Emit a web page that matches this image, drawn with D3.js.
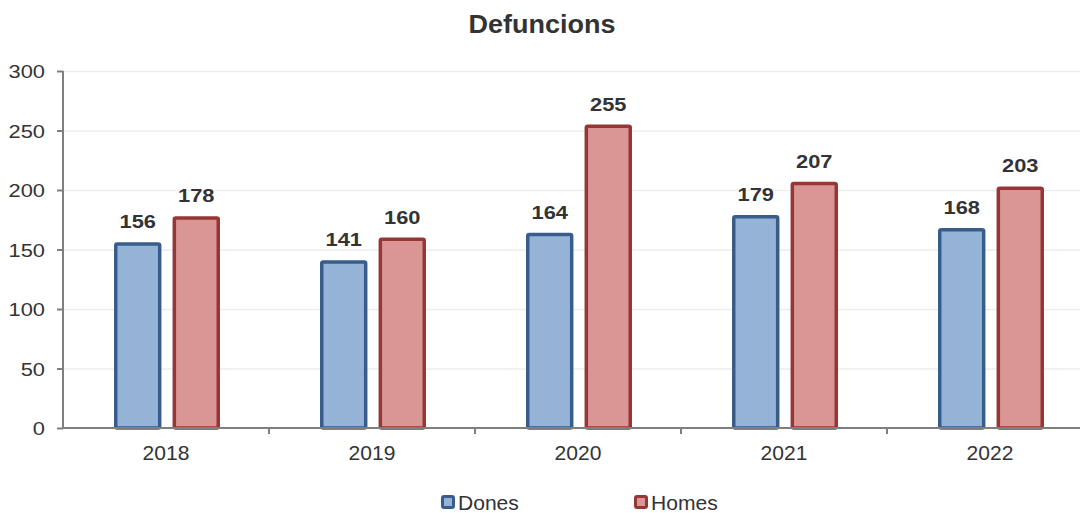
<!DOCTYPE html>
<html>
<head>
<meta charset="utf-8">
<script src="https://cdn.jsdelivr.net/npm/d3@7"></script>
<style>
html,body{margin:0;padding:0;background:#fff;}
svg{display:block;font-family:"Liberation Sans",Arial,sans-serif;}
</style>
</head>
<body>
<svg id="chart" width="1080" height="513"></svg>
<script>
const years = ["2018","2019","2020","2021","2022"];
const series = ["Dones","Homes"];
const dones = [156,141,164,179,168];
const homes = [178,160,255,207,203];
const yTicks = [0,50,100,150,200,250,300];
const fills = {Dones:"#95B3D7", Homes:"#D99694"};
const strokes = {Dones:"#385D8A", Homes:"#953735"};
const values = {Dones:dones, Homes:homes};

const svg = d3.select("#chart");
const x0 = d3.scaleBand().domain(years).range([63,1093]).padding(0);
const x1 = d3.scaleBand().domain(series).range([51,157]).paddingInner(0.19).paddingOuter(0);
const y = d3.scaleLinear().domain([0,300]).range([428,71]);

function stretchText(parent, x, yy, txt, opts){
  return parent.append("text")
    .attr("transform",`translate(${x},${yy}) scale(${opts.sx||1.12},1)`)
    .attr("text-anchor",opts.anchor||"middle")
    .attr("font-size",opts.size)
    .attr("font-weight",opts.weight||"normal")
    .attr("fill",opts.fill||"#333")
    .text(txt);
}

// gridlines
svg.append("g").selectAll("line").data(yTicks.slice(1)).join("line")
  .attr("x1",63).attr("x2",1080)
  .attr("y1",d=>y(d)+0.5).attr("y2",d=>y(d)+0.5)
  .attr("stroke","#EDEDED").attr("stroke-width",1.5);

// title
stretchText(svg,542,33,"Defuncions",{size:25,weight:"bold",sx:1.08});

// bars
const sw = 3.5;
years.forEach((yr,i)=>{
  series.forEach(s=>{
    const v = values[s][i];
    const bx = x0(yr) + x1(s);
    const bw = x1.bandwidth();
    svg.append("rect")
      .attr("x",bx+sw/2).attr("y",y(v)+sw/2)
      .attr("width",bw-sw).attr("height",y(0)-y(v)-sw/2)
      .attr("fill",fills[s]).attr("stroke",strokes[s]).attr("stroke-width",sw)
      .attr("rx",1.5);
    stretchText(svg,bx+bw/2,y(v)-14,v,{size:19,weight:"bold",sx:1.15});
  });
});

// y axis
const yAxis = d3.axisLeft(y).tickValues(yTicks).tickSize(6).tickFormat("");
const gy = svg.append("g").attr("transform","translate(63,0)").call(yAxis);
gy.select(".domain").attr("stroke","#7F7F7F").attr("stroke-width",2).attr("d","M0,71V429");
gy.selectAll(".tick line").attr("stroke","#7F7F7F").attr("stroke-width",2);
yTicks.forEach(t=>{
  stretchText(svg,45,y(t)+7,t,{size:19,anchor:"end",sx:1.15});
});

// x axis
const xAxis = d3.axisBottom(x0).tickSize(0).tickFormat("");
const gx = svg.append("g").attr("transform","translate(0,428)").call(xAxis);
gx.select(".domain").attr("stroke","#7F7F7F").attr("stroke-width",2).attr("d","M63,0H1093");
years.forEach(yr=>{
  stretchText(svg,x0(yr)+x0.bandwidth()/2,460,yr,{size:19.5,sx:1.08});
});
// category separator ticks
svg.append("g").selectAll("line").data(years.slice(1)).join("line")
  .attr("x1",d=>x0(d)).attr("x2",d=>x0(d))
  .attr("y1",428).attr("y2",434).attr("stroke","#7F7F7F").attr("stroke-width",2);

// legend
const legendX = {Dones:441, Homes:634};
series.forEach(s=>{
  const g = svg.append("g").attr("transform",`translate(${legendX[s]},495)`);
  g.append("rect").attr("x",1.5).attr("y",1.5).attr("width",11).attr("height",11)
    .attr("fill",fills[s]).attr("stroke",strokes[s]).attr("stroke-width",3).attr("rx",1.5);
  stretchText(g,17,14.5,s,{size:19.5,anchor:"start",sx:1.08});
});
</script>
</body>
</html>
